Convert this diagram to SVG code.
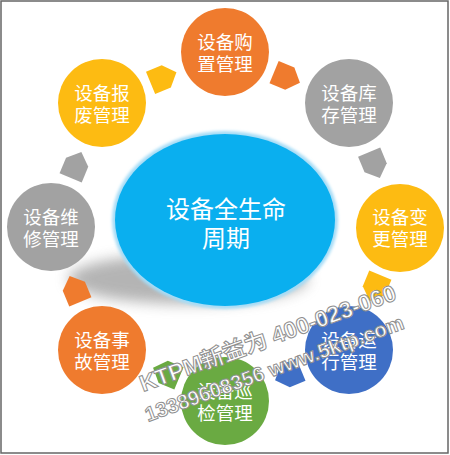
<svg xmlns="http://www.w3.org/2000/svg" width="450" height="455" viewBox="0 0 450 455">
<style>
.t{font-family:"Noto Sans CJK SC","Noto Sans",sans-serif;fill:#fff;text-anchor:middle;dominant-baseline:central}
.n{font-size:18.5px}
.c{font-size:24px}
.wm{font-family:"Liberation Sans",Arial,sans-serif;font-weight:bold;fill:#fff;stroke:#8f8f8f;stroke-width:1}
</style>
<defs>
<filter id="blur" x="-30%" y="-100%" width="160%" height="300%"><feGaussianBlur stdDeviation="7"/></filter>
<filter id="glow" x="-10%" y="-10%" width="120%" height="120%"><feGaussianBlur stdDeviation="1.5"/></filter>
</defs>
<rect x="0" y="0" width="450" height="455" fill="#fff"/>
<rect x="1" y="1" width="447" height="452" fill="none" stroke="#666" stroke-width="1.5"/>

<g id="center">
<ellipse cx="188" cy="279" rx="120" ry="25" fill="#777" opacity="0.55" filter="url(#blur)"/>
<ellipse cx="225" cy="220" rx="113" ry="89" fill="#a6dcf6" filter="url(#glow)"/>
<ellipse cx="225" cy="220" rx="110" ry="86" fill="#0aafef"/>
<text class="t c" x="226" y="207">设备全生命</text>
<text class="t c" x="226" y="236">周期</text>
</g>

<g id="connectors">
<path fill="#fdbb12" d="M-14,-12 L3,-12 L14,0 L3,12 L-14,12 Z" transform="translate(163.5,77.5) rotate(-22.5)"/>
<path fill="#ef7b2e" d="M-14,-12 L3,-12 L14,0 L3,12 L-14,12 Z" transform="translate(287,77.5) rotate(22.5)"/>
<path fill="#a2a2a2" d="M-14,-12 L3,-12 L14,0 L3,12 L-14,12 Z" transform="translate(374.5,165) rotate(67.5)"/>
<path fill="#fdbb12" d="M-14,-12 L3,-12 L14,0 L3,12 L-14,12 Z" transform="translate(375,288) rotate(112.5)"/>
<path fill="#3f6fc6" d="M-14,-12 L3,-12 L14,0 L3,12 L-14,12 Z" transform="translate(288,375) rotate(157.5)"/>
<path fill="#6aaa42" d="M-14,-12 L3,-12 L14,0 L3,12 L-14,12 Z" transform="translate(166,373) rotate(202.5)"/>
<path fill="#ef7b2e" d="M-14,-12 L3,-12 L14,0 L3,12 L-14,12 Z" transform="translate(75,289) rotate(247.5)"/>
<path fill="#a2a2a2" d="M-14,-12 L3,-12 L14,0 L3,12 L-14,12 Z" transform="translate(76,165) rotate(292.5)"/>
</g>

<g id="n-purchase">
<circle cx="225" cy="52" r="44" fill="#ef7b2e"/>
<text class="t n" x="225" y="41">设备购</text>
<text class="t n" x="225" y="63">置管理</text>
</g>
<g id="n-stock">
<circle cx="349" cy="103" r="44" fill="#a2a2a2"/>
<text class="t n" x="349" y="92">设备库</text>
<text class="t n" x="349" y="114">存管理</text>
</g>
<g id="n-change">
<circle cx="400" cy="228" r="44" fill="#fdbb12"/>
<text class="t n" x="400" y="216">设备变</text>
<text class="t n" x="400" y="238">更管理</text>
</g>
<g id="n-run">
<circle cx="349" cy="350" r="44" fill="#3f6fc6"/>
<text class="t n" x="349" y="339">设备运</text>
<text class="t n" x="349" y="361">行管理</text>
</g>
<g id="n-inspect">
<circle cx="225" cy="401" r="44" fill="#6aaa42"/>
<text class="t n" x="225" y="390">设备巡</text>
<text class="t n" x="225" y="412">检管理</text>
</g>
<g id="n-accident">
<circle cx="102" cy="350" r="44" fill="#ef7b2e"/>
<text class="t n" x="102" y="339">设备事</text>
<text class="t n" x="102" y="361">故管理</text>
</g>
<g id="n-repair">
<circle cx="51" cy="227" r="44" fill="#a2a2a2"/>
<text class="t n" x="51" y="216">设备维</text>
<text class="t n" x="51" y="238">修管理</text>
</g>
<g id="n-scrap">
<circle cx="102" cy="103" r="44" fill="#fdbb12"/>
<text class="t n" x="102" y="92">设备报</text>
<text class="t n" x="102" y="114">废管理</text>
</g>

<g id="watermark">
<text class="wm" font-size="23" transform="translate(143,392) rotate(-20)">KTPM<tspan font-family="Noto Sans CJK SC,sans-serif">新益为</tspan> 400-023-060</text>
<text class="wm" font-size="20.5" transform="translate(148,422) rotate(-20)">13389608356 www.5ktp.com</text>
</g>
</svg>
